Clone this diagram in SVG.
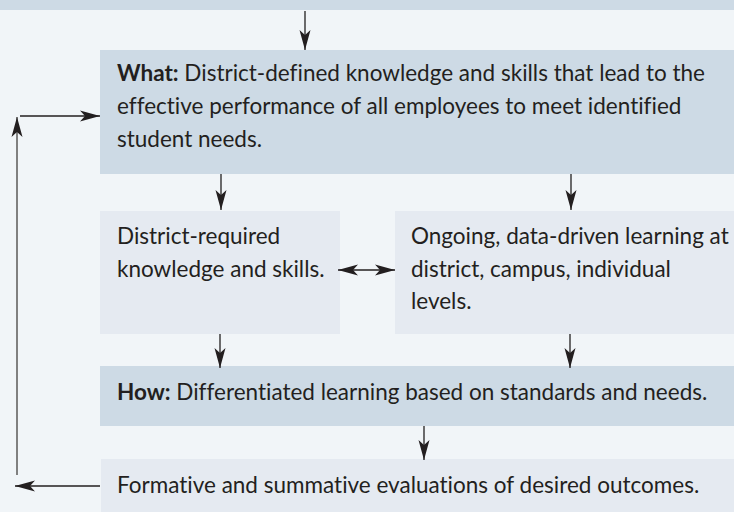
<svg xmlns="http://www.w3.org/2000/svg" width="734" height="512" viewBox="0 0 734 512">
<defs>
<style>
.dark{fill:#cddae5}
.light{fill:#e5eaf1}
.t{font-family:Lato,"Open Sans",sans-serif;font-size:22.5px;fill:#231f20;font-variant-ligatures:none}
.b{font-weight:bold}
.c{stroke:#231f20;stroke-width:1.3;fill:none}
.g{stroke:#808080;stroke-width:2;fill:none}
</style>
<marker id="ah" viewBox="0 0 20 12" refX="20" refY="6" markerWidth="20" markerHeight="12" markerUnits="userSpaceOnUse" orient="auto-start-reverse">
<path d="M0,0.5 L20,6 L0,11.5 L5,6 Z" fill="#231f20"/>
</marker>
</defs>
<rect width="734" height="512" fill="#f1f5f8"/>
<rect id="top" x="0" y="0" width="734" height="10" class="dark"/>
<g id="what">
<rect x="100" y="50" width="634" height="124" class="dark"/>
<text class="t" x="117" y="81"><tspan class="b">What:</tspan> District-defined knowledge and skills that lead to the</text>
<text class="t" x="117" y="114">effective performance of all employees to meet identified</text>
<text class="t" x="117" y="147">student needs.</text>
</g>
<g id="required">
<rect x="100" y="211" width="240" height="123" class="light"/>
<text class="t" x="117" y="244">District-required</text>
<text class="t" x="117" y="277">knowledge and skills.</text>
</g>
<g id="ongoing">
<rect x="395" y="211" width="339" height="123" class="light"/>
<text class="t" x="411" y="244">Ongoing, data-driven learning at</text>
<text class="t" x="411" y="277">district, campus, individual</text>
<text class="t" x="411" y="309">levels.</text>
</g>
<g id="how">
<rect x="100" y="366" width="634" height="60" class="dark"/>
<text class="t" x="117" y="400"><tspan class="b">How:</tspan> Differentiated learning based on standards and needs.</text>
</g>
<g id="eval">
<rect x="101" y="459" width="633" height="53" class="light"/>
<text class="t" x="117" y="493">Formative and summative evaluations of desired outcomes.</text>
</g>
<g id="connectors">
<line x1="305" y1="11" x2="305" y2="50" class="c" marker-end="url(#ah)"/>
<line x1="221" y1="174" x2="221" y2="210" class="c" marker-end="url(#ah)"/>
<line x1="571" y1="174" x2="571" y2="210" class="c" marker-end="url(#ah)"/>
<line x1="338" y1="270" x2="395" y2="270" class="c" marker-start="url(#ah)" marker-end="url(#ah)"/>
<line x1="220" y1="334" x2="220" y2="368" class="c" marker-end="url(#ah)"/>
<line x1="570" y1="334" x2="570" y2="368" class="c" marker-end="url(#ah)"/>
<line x1="424" y1="426" x2="424" y2="460" class="c" marker-end="url(#ah)"/>
<line x1="100" y1="486" x2="15" y2="486" class="c" marker-end="url(#ah)"/>
<line x1="17" y1="475" x2="17" y2="117" class="g" marker-end="url(#ah)"/>
<line x1="20" y1="116" x2="100" y2="116" class="c" marker-end="url(#ah)"/>
</g>
</svg>
